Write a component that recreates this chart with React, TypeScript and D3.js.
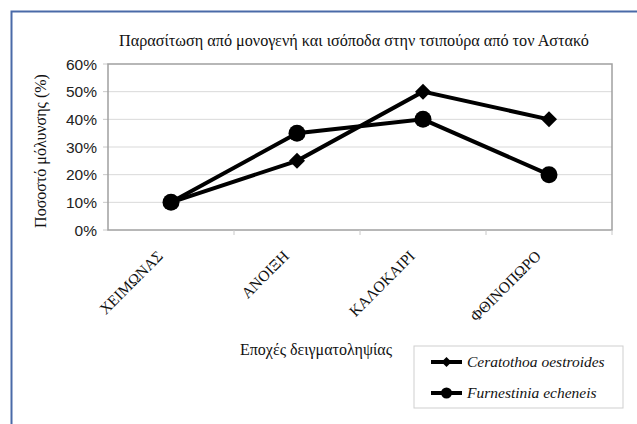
import React from "react";
import * as d3 from "d3";

const categories = ["ΧΕΙΜΩΝΑΣ", "ΑΝΟΙΞΗ", "ΚΑΛΟΚΑΙΡΙ", "ΦΘΙΝΟΠΩΡΟ"];
const ceratothoa = [0.1, 0.25, 0.5, 0.4];
const furnestinia = [0.1, 0.35, 0.4, 0.2];
const yTicks = [0, 0.1, 0.2, 0.3, 0.4, 0.5, 0.6];
const seriesNames = ["Ceratothoa oestroides", "Furnestinia echeneis"];
const title = "Παρασίτωση από μονογενή και ισόποδα στην τσιπούρα από τον Αστακό";
const yTitle = "Ποσοστό μόλυνσης (%)";
const xTitle = "Εποχές δειγματοληψίας";

const W = 637, H = 424;
const left = 108, right = 612, top = 64, bottom = 230;
const serif = { fontFamily: "Liberation Serif" };
const sans = { fontFamily: "Liberation Sans" };

export default function App() {
  const x = d3.scaleBand<string>().domain(categories).range([left, right]);
  const y = d3.scaleLinear().domain([0, 0.6]).range([bottom, top]);
  const cx = (i: number) => x(categories[i])! + x.bandwidth() / 2;
  const line = d3.line<number>().x((_, i) => cx(i)).y((d) => y(d));
  const fmt = d3.format(".0%");
  const diamond = (px: number, py: number, r: number) =>
    `M${px},${py - r}L${px + r},${py}L${px},${py + r}L${px - r},${py}Z`;
  return (
    <svg width={W} height={H} style={{ position: "absolute", left: 0, top: 0 }}>
      <rect x={0} y={0} width={W} height={H} fill="#fff" />
      <path d={`M11.5,${H}V11.5H${W}`} fill="none" stroke="#4a6aa8" strokeWidth={2} />
      <text x={354} y={46} textAnchor="middle" fontSize={16.2} style={serif} fill="#111">{title}</text>
      {yTicks.map((t) => (
        <g key={t}>
          {t > 0 && t < 0.6 && <line x1={left} x2={right} y1={y(t)} y2={y(t)} stroke="#d9d9d9" strokeWidth={1} />}
          <line x1={left - 5} x2={left} y1={y(t)} y2={y(t)} stroke="#c8c8c8" />
          <text x={left - 11} y={y(t) + 5.5} textAnchor="end" fontSize={15.5} style={sans} fill="#222">{fmt(t)}</text>
        </g>
      ))}
      <rect x={left} y={top} width={right - left} height={bottom - top} fill="none" stroke="#a0a0a0" strokeWidth={1.5} />
      {categories.map((c, i) => (
        <g key={c}>
          <line x1={x(c)! + x.bandwidth()} x2={x(c)! + x.bandwidth()} y1={bottom} y2={bottom + 5} stroke="#c8c8c8" />
          <text
            transform={`translate(${cx(i) - 7},${bottom + 27}) rotate(-45)`}
            textAnchor="end"
            fontSize={15.5}
            style={serif}
            fill="#111"
          >{c}</text>
        </g>
      ))}
      <text transform={`translate(46,${(top + bottom) / 2 + 4}) rotate(-90)`} textAnchor="middle" fontSize={16} style={serif} fill="#111">{yTitle}</text>
      <text x={316} y={355} textAnchor="middle" fontSize={16} style={serif} fill="#111">{xTitle}</text>
      <path d={line(ceratothoa)!} fill="none" stroke="#000" strokeWidth={4} />
      <path d={line(furnestinia)!} fill="none" stroke="#000" strokeWidth={4} />
      {ceratothoa.map((v, i) => (
        <path key={"c" + i} d={diamond(cx(i), y(v), 8)} fill="#000" />
      ))}
      {furnestinia.map((v, i) => (
        <circle key={"f" + i} cx={cx(i)} cy={y(v)} r={8.5} fill="#000" />
      ))}
      <rect x={414} y={346} width={209} height={62} fill="#fff" stroke="#cfcfcf" />
      {seriesNames.map((n, i) => {
        const ly = 362 + i * 31;
        return (
          <g key={n}>
            <line x1={431} x2={462} y1={ly} y2={ly} stroke="#000" strokeWidth={4} />
            {i === 0 ? <path d={diamond(446.5, ly, 5)} fill="#000" /> : <circle cx={446.5} cy={ly} r={5.5} fill="#000" />}
            <text x={467} y={ly + 5} fontSize={15.5} fontStyle="italic" style={serif} fill="#111">{n}</text>
          </g>
        );
      })}
    </svg>
  );
}
